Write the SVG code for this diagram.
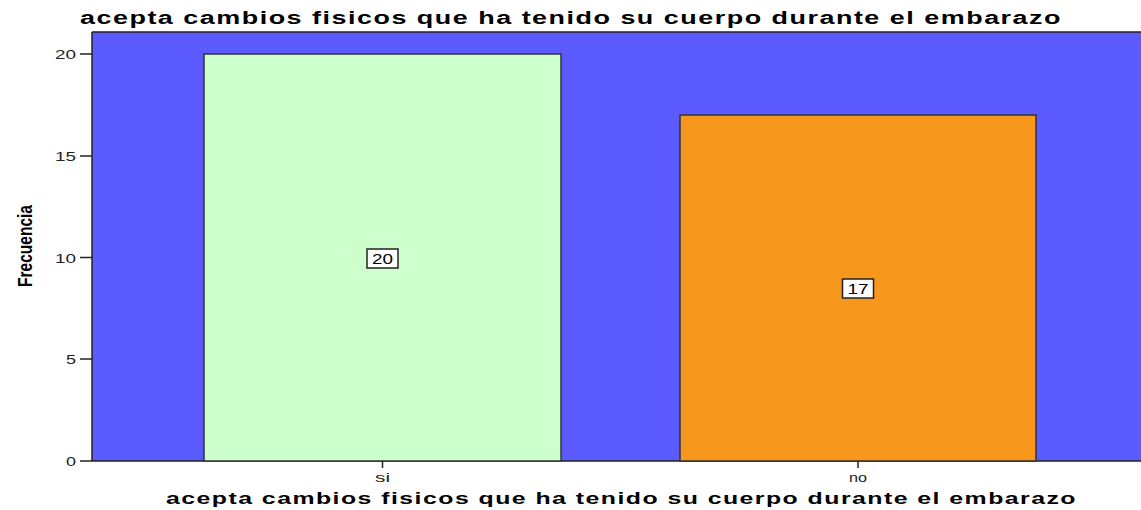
<svg xmlns="http://www.w3.org/2000/svg" width="1141" height="510" viewBox="0 0 1141 510">
<style>
.t{font-family:"Liberation Sans",Arial,sans-serif;font-weight:bold;fill:#000}
.tick{font-family:"Liberation Sans",Arial,sans-serif;font-size:13px;fill:#222}
.ax{stroke:#222;stroke-width:1.5;fill:none}
.bar{stroke:#333;stroke-width:1.5}
.lbl{fill:#fff;stroke:#222;stroke-width:1.5}
.val{font-family:"Liberation Sans",Arial,sans-serif;font-size:14px;fill:#000}
</style>
<rect width="1141" height="510" fill="#fff"/>
<text class="t" x="80" y="24" font-size="18" letter-spacing="1" textLength="982" lengthAdjust="spacingAndGlyphs">acepta cambios fisicos que ha tenido su cuerpo durante el embarazo</text>
<g id="plot">
<rect x="92" y="32" width="1060" height="429" fill="#5B5BFF"/>
<line class="ax" x1="92" y1="32" x2="1141" y2="32"/>
<line class="ax" x1="92" y1="32" x2="92" y2="461"/>
<line class="ax" x1="92" y1="461" x2="1141" y2="461"/>
</g>
<g id="yaxis">
<line class="ax" x1="80" y1="54" x2="92" y2="54"/>
<line class="ax" x1="80" y1="156" x2="92" y2="156"/>
<line class="ax" x1="80" y1="257.5" x2="92" y2="257.5"/>
<line class="ax" x1="80" y1="359" x2="92" y2="359"/>
<line class="ax" x1="80" y1="461" x2="92" y2="461"/>
<text class="tick" x="55" y="59" textLength="21" lengthAdjust="spacingAndGlyphs">20</text>
<text class="tick" x="55" y="161" textLength="21" lengthAdjust="spacingAndGlyphs">15</text>
<text class="tick" x="55" y="262.5" textLength="21" lengthAdjust="spacingAndGlyphs">10</text>
<text class="tick" x="66" y="364" textLength="10" lengthAdjust="spacingAndGlyphs">5</text>
<text class="tick" x="66" y="466" textLength="10" lengthAdjust="spacingAndGlyphs">0</text>
<text class="t" font-size="21" transform="translate(32,287) rotate(-90)" textLength="82" lengthAdjust="spacingAndGlyphs">Frecuencia</text>
</g>
<g id="bar-si">
<rect class="bar" x="204" y="54" width="357" height="407" fill="#CCFFCC"/>
<rect class="lbl" x="367" y="249" width="31" height="19"/>
<text class="val" x="372" y="264" textLength="21" lengthAdjust="spacingAndGlyphs">20</text>
</g>
<g id="bar-no">
<rect class="bar" x="680" y="115" width="356" height="346" fill="#F7981D"/>
<rect class="lbl" x="842.5" y="279" width="31" height="19"/>
<text class="val" x="847.5" y="294" textLength="21" lengthAdjust="spacingAndGlyphs">17</text>
</g>
<g id="xaxis">
<line class="ax" x1="382.5" y1="461" x2="382.5" y2="468"/>
<line class="ax" x1="858" y1="461" x2="858" y2="468"/>
<text class="tick" x="375" y="482" textLength="15" lengthAdjust="spacingAndGlyphs">si</text>
<text class="tick" x="849" y="482" textLength="18" lengthAdjust="spacingAndGlyphs">no</text>
<text class="t" x="166" y="504" font-size="17" letter-spacing="1" textLength="911" lengthAdjust="spacingAndGlyphs">acepta cambios fisicos que ha tenido su cuerpo durante el embarazo</text>
</g>
</svg>
